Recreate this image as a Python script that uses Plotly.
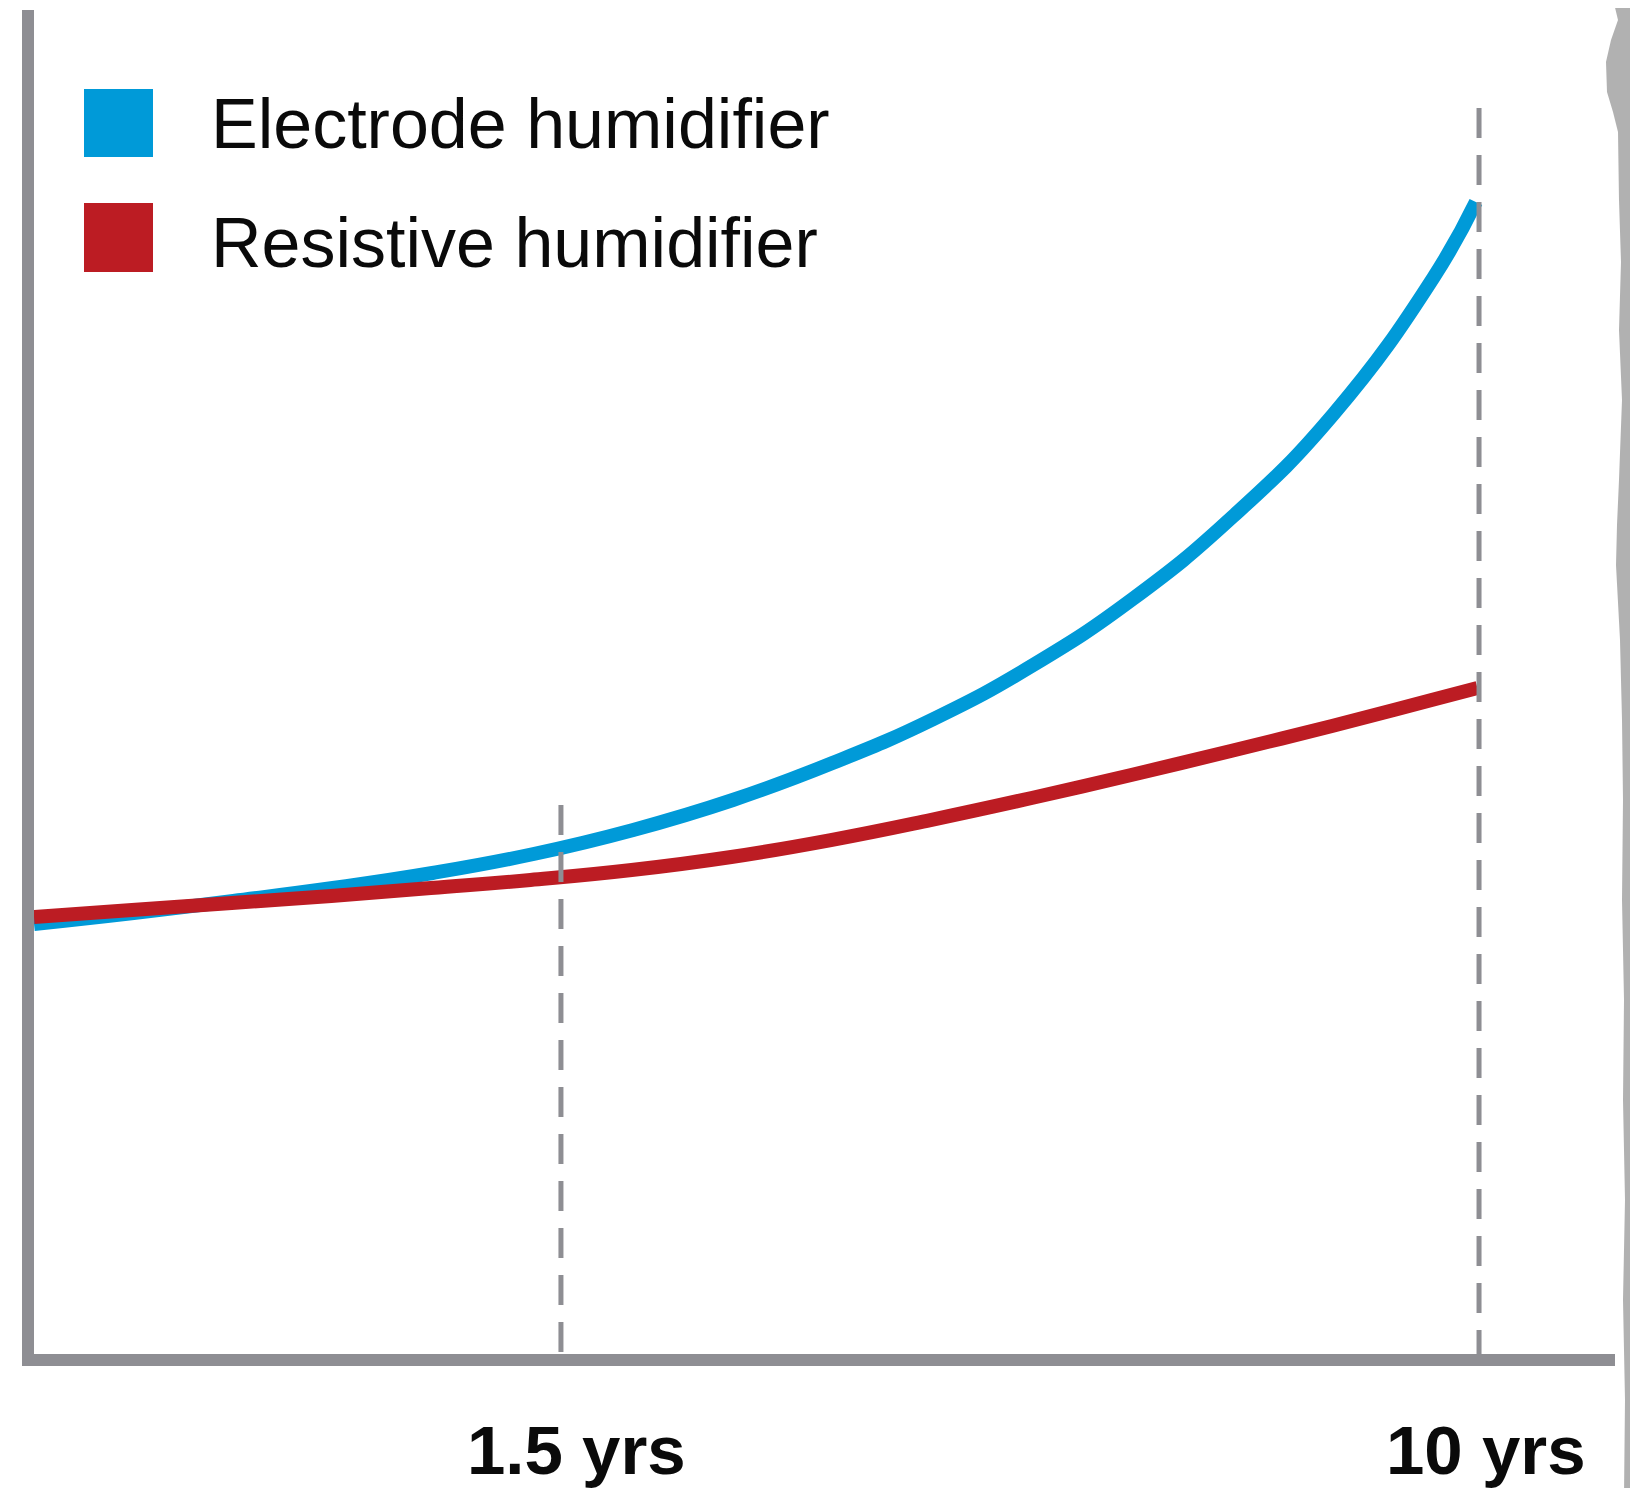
import plotly.graph_objects as go

# ---------------- data (schematic position along time axis 0-100; relative cost 0-100) ----------------
electrode_x = [0, 6.3, 12.6, 18.9, 25.2, 31.6, 37.9, 44.2, 50.5, 56.9, 63.2, 69.5, 75.8, 82.2, 88.5, 91.2]
electrode_y = [31.99, 32.81, 33.71, 34.67, 35.79, 37.20, 38.99, 41.22, 43.97, 47.25, 51.26, 56.18,
               62.28, 69.94, 80.06, 85.71]

resistive_x = [0, 6.2, 12.5, 18.8, 25.1, 31.4, 37.8, 44.1, 50.4, 56.7, 63.1, 69.4, 75.7, 82.1, 88.4, 91.3]
resistive_y = [32.51, 33.04, 33.56, 34.08, 34.67, 35.27, 36.01, 36.98, 38.24, 39.73, 41.37, 43.08,
               44.87, 46.73, 48.66, 49.55]

series_names = ["Electrode humidifier", "Resistive humidifier"]
series_colors = ["#009ad8", "#bc1c23"]

guide_x = [33.33, 91.4]          # positions of the dashed markers
guide_top = [40.85, 92.7]        # height where the dashed markers start
tick_labels = ["1.5 yrs", "10 yrs"]
tick_label_shift = [16, 7]

# ---------------- layout geometry ----------------
# the page body has an 8px margin, so the figure is drawn 8px smaller and every
# reference pixel position is shifted by that offset
OFF = 8
W, H = 1638 - OFF, 1488 - OFF
ML, MR, MT, MB = 26, 23, 2, 134
PW, PH = W - ML - MR, H - MT - MB


def px(xpix):
    return (xpix - OFF - ML) / PW


def py(ypix):
    return (H - MB - (ypix - OFF)) / PH


AXIS_GRAY = "#8e8e93"
FONT = "Liberation Sans, Arial, Helvetica, sans-serif"

fig = go.Figure()
fig.add_trace(go.Scatter(x=electrode_x, y=electrode_y, mode="lines", name=series_names[0],
                         line=dict(color=series_colors[0], width=14, shape="spline", smoothing=1.3),
                         showlegend=False, hoverinfo="skip"))
fig.add_trace(go.Scatter(x=resistive_x, y=resistive_y, mode="lines", name=series_names[1],
                         line=dict(color=series_colors[1], width=14, shape="spline", smoothing=1.3),
                         showlegend=False, hoverinfo="skip"))

shapes = []
# dashed guide lines (drawn from the top down so the dash pattern starts at the top)
for gx, gt in zip(guide_x, guide_top):
    shapes.append(dict(type="line", xref="x", yref="y", x0=gx, x1=gx, y0=gt, y1=0,
                       line=dict(color=AXIS_GRAY, width=5, dash="30px,17px"), layer="above"))

# legend squares
legend_rows = [(89, 157, 124), (203, 272, 243)]
annotations = []
for (top, bot, mid), name, col in zip(legend_rows, series_names, series_colors):
    shapes.append(dict(type="rect", xref="paper", yref="paper", x0=px(84), x1=px(153),
                       y0=py(bot), y1=py(top), fillcolor=col, line=dict(width=0)))
    annotations.append(dict(xref="paper", yref="paper", x=px(209), y=py(mid), text=name,
                            showarrow=False, xanchor="left", yanchor="middle",
                            font=dict(family=FONT, size=70, color="#0a0a0a")))

# x labels
for gx, lab, sh in zip(guide_x, tick_labels, tick_label_shift):
    annotations.append(dict(xref="x", yref="paper", x=gx, y=py(1450), text="<b>%s</b>" % lab,
                            showarrow=False, xanchor="center", yanchor="middle", xshift=sh,
                            font=dict(family=FONT, size=69, color="#0a0a0a")))

# torn-paper shadow on the right edge (decoration)
edge = [(1612, -5), (1618, 20), (1611, 40), (1606, 62), (1607, 92), (1613, 112), (1618, 132),
        (1619, 200), (1621, 262), (1619, 330), (1622, 400), (1619, 480), (1617, 525), (1616, 565),
        (1620, 640), (1622, 720), (1623, 800), (1622, 900), (1624, 1000), (1623, 1100),
        (1625, 1200), (1623, 1300), (1625, 1400), (1624, 1495)]
path = "M %f,%f " % (px(edge[0][0]), py(edge[0][1]))
for ex, ey in edge[1:]:
    path += "L %f,%f " % (px(ex), py(ey))
path += "L %f,%f L %f,%f Z" % (px(1645), py(1495), px(1645), py(-5))
shapes.append(dict(type="path", xref="paper", yref="paper", path=path,
                   fillcolor="#a3a3a3", opacity=0.85, line=dict(width=0), layer="above"))

fig.update_layout(
    width=W, height=H,
    margin=dict(l=ML, r=MR, t=MT, b=MB, pad=0),
    paper_bgcolor="white", plot_bgcolor="white",
    shapes=shapes, annotations=annotations,
    showlegend=False,
    xaxis=dict(range=[0, 100], showgrid=False, zeroline=False, showticklabels=False, ticks="",
               showline=True, linecolor=AXIS_GRAY, linewidth=12, fixedrange=True),
    yaxis=dict(range=[0, 100], showgrid=False, zeroline=False, showticklabels=False, ticks="",
               showline=True, linecolor=AXIS_GRAY, linewidth=12, fixedrange=True),
)

fig.write_html("out.html")
